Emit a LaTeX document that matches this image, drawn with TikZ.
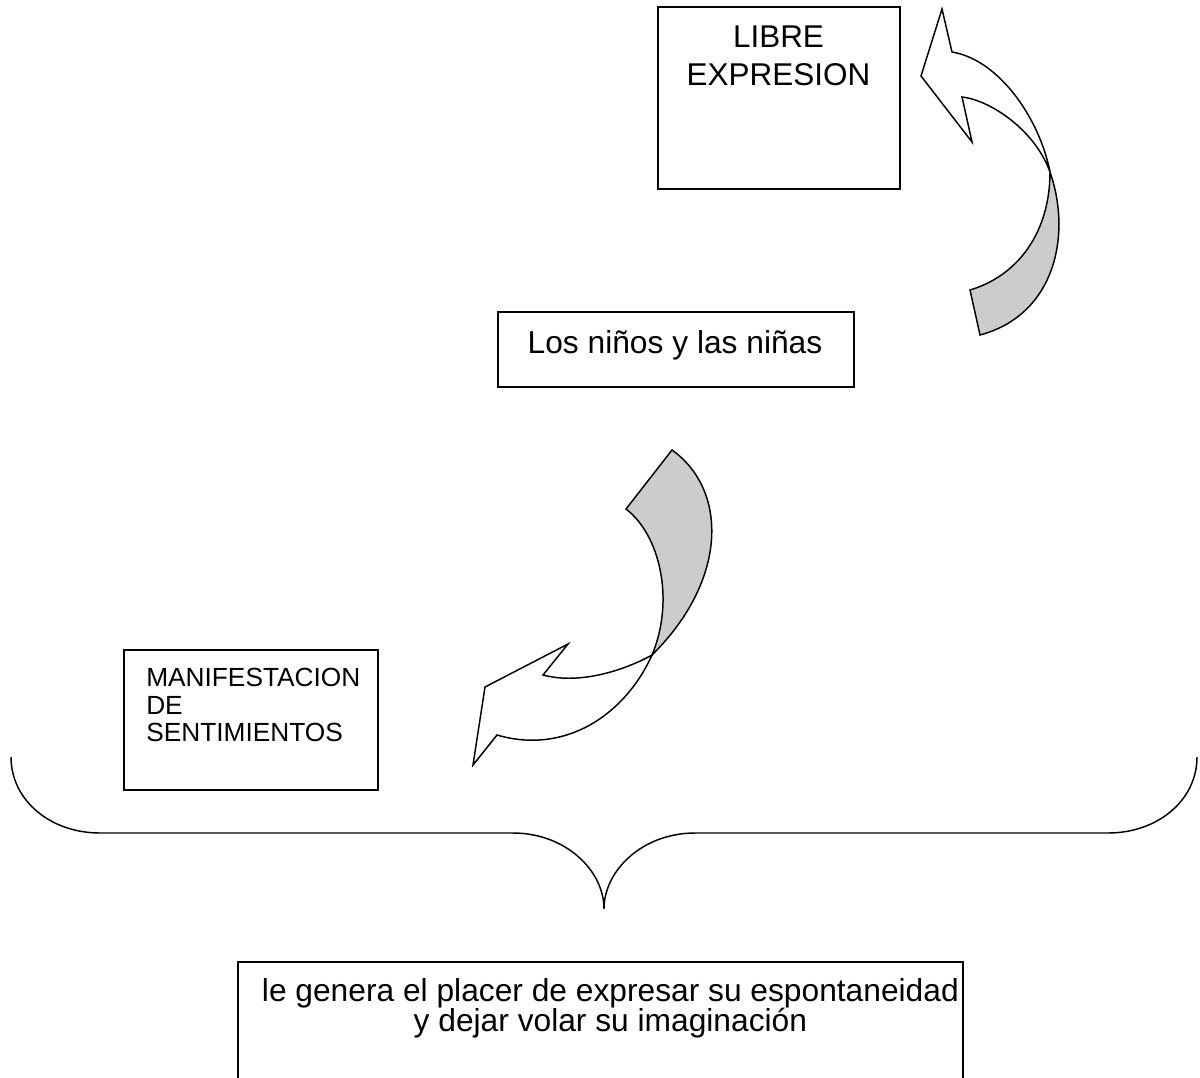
\documentclass[tikz,border=0pt]{standalone}
\usepackage{fontspec}
\setmainfont{Liberation Sans}
\usetikzlibrary{fit}
\newcommand\mytightlines{\lineskiplimit=-100pt\relax}
\begin{document}
\begin{tikzpicture}[x=0.75pt,y=-0.75pt,
  box/.style={draw, line width=1.2pt, inner sep=0pt},
  ribbon/.style={draw, line width=1.1pt, line join=miter},
  backside/.style={ribbon, fill=black!20},
  frontside/.style={ribbon, fill=white},
  brace/.style={draw, line width=1.1pt},
  txt/.style={inner sep=0pt, anchor=base, align=center}]
\useasboundingbox (0,0) rectangle (1200,1078);

% boxes
\node[box, fit={(658,7) (900,189)}] (libre) {};
\node[txt, font={\fontsize{23.6}{28.1}\selectfont\mytightlines}] (libretxt) at (778.5,85) {LIBRE\\EXPRESION};

\node[box, fit={(497.7,311.7) (854,386.7)}] (ninos) {};
\node[txt, font={\fontsize{23.8}{28}\selectfont}] (ninostxt) at (675,353.3) {Los niños y las niñas};

\node[box, fit={(124,650) (378,790)}] (manif) {};
\node[txt, align=left, anchor=base west, font={\fontsize{19.7}{20.6}\selectfont\mytightlines}] (maniftxt) at (146,741.7) {MANIFESTACION\\DE\\SENTIMIENTOS};

\begin{scope}
\clip (0,0) rectangle (1200,1078);
\node[box, fit={(237.7,961.7) (963,1095)}] (placer) {};
\end{scope}
\node[txt, font={\fontsize{23.8}{22}\selectfont\mytightlines}] (placertxt) at (610.4,1031) {le genera el placer de expresar su espontaneidad\\y dejar volar su imaginación};

% upper curved arrow
\coordinate (ux) at (1050,172);
\draw[frontside] (942,9) -- (952,52) .. controls (1000,60) and (1040,120) .. (ux)
  .. controls (1035,130) and (990,100) .. (962,97) -- (972,142) -- (921,76) -- cycle;
\draw[backside] (ux) .. controls (1072,235) and (1055,315) .. (980,335) -- (970,290)
  .. controls (1020,275) and (1050,230) .. (ux) -- cycle;

% lower curved arrow
\coordinate (lx) at (652,655);
\draw[backside] (672,450) .. controls (728,490) and (728,580) .. (lx)
  .. controls (675,600) and (660,535) .. (626,509) -- cycle;
\draw[frontside] (lx) .. controls (625,715) and (565,755) .. (497,735) -- (473,765) -- (485,687)
  -- (568,644) -- (543,675) .. controls (580,685) and (625,670) .. (lx) -- cycle;

% brace
\coordinate (bl) at (11,757);
\coordinate (br) at (1197,757);
\coordinate (bt) at (604,909);
\draw[brace] (bl) .. controls (11,800) and (50,833) .. (100,833) -- (513,833)
  .. controls (565,833) and (604,870) .. (bt)
  .. controls (604,870) and (643,833) .. (695,833) -- (1108,833)
  .. controls (1158,833) and (1197,800) .. (br);
\end{tikzpicture}
\end{document}
